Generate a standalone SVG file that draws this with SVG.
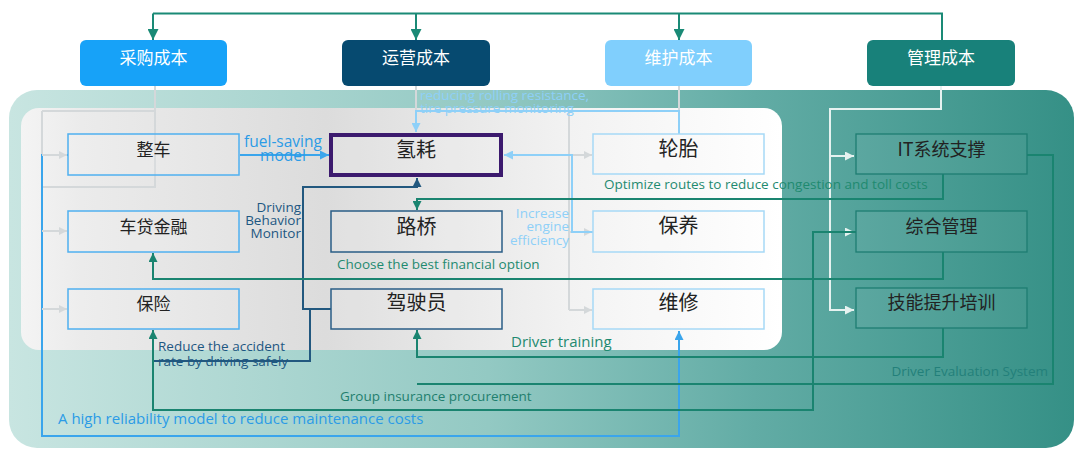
<svg xmlns="http://www.w3.org/2000/svg" width="1080" height="452" viewBox="0 0 1080 452">
<defs>
<linearGradient id="bgG" x1="0" y1="0" x2="1" y2="0">
<stop offset="0" stop-color="#c8e5e1"/>
<stop offset="0.45" stop-color="#93c9c3"/>
<stop offset="0.7" stop-color="#62aca5"/>
<stop offset="1" stop-color="#359086"/>
</linearGradient>
<linearGradient id="inG" x1="0" y1="0" x2="1" y2="0">
<stop offset="0" stop-color="#f4f4f4"/>
<stop offset="0.08" stop-color="#ebebeb"/>
<stop offset="0.4" stop-color="#dcdcdc"/>
<stop offset="0.72" stop-color="#f2f2f2"/>
<stop offset="1" stop-color="#ffffff"/>
</linearGradient>
<marker id="aTop" viewBox="0 0 10 10" refX="10" refY="5" markerWidth="11" markerHeight="11" markerUnits="userSpaceOnUse" orient="auto"><path d="M0,0 L10,5 L0,10 z" fill="#1a8a76"/></marker>
<marker id="aTeal" viewBox="0 0 10 10" refX="10" refY="5" markerWidth="9" markerHeight="9" markerUnits="userSpaceOnUse" orient="auto"><path d="M0,0 L10,5 L0,10 z" fill="#1a8470"/></marker>
<marker id="aBlue" viewBox="0 0 10 10" refX="10" refY="5" markerWidth="9" markerHeight="9" markerUnits="userSpaceOnUse" orient="auto"><path d="M0,0 L10,5 L0,10 z" fill="#3aa5ec"/></marker>
<marker id="aNavy" viewBox="0 0 10 10" refX="10" refY="5" markerWidth="9" markerHeight="9" markerUnits="userSpaceOnUse" orient="auto"><path d="M0,0 L10,5 L0,10 z" fill="#22587f"/></marker>
<marker id="aLBlue" viewBox="0 0 10 10" refX="10" refY="5" markerWidth="9" markerHeight="9" markerUnits="userSpaceOnUse" orient="auto"><path d="M0,0 L10,5 L0,10 z" fill="#8ed0f8"/></marker>
<marker id="aGray" viewBox="0 0 10 10" refX="10" refY="5" markerWidth="8" markerHeight="8" markerUnits="userSpaceOnUse" orient="auto"><path d="M0,0 L10,5 L0,10 z" fill="#d4d8da"/></marker>
<marker id="aWhite" viewBox="0 0 10 10" refX="10" refY="5" markerWidth="9" markerHeight="9" markerUnits="userSpaceOnUse" orient="auto"><path d="M0,0 L10,5 L0,10 z" fill="#e6f2f0"/></marker>
</defs>
<style>
.tt{font-family:"Noto Sans CJK SC","Noto Sans",sans-serif;font-size:17px;fill:#ffffff;text-anchor:middle}
.nt{font-family:"Noto Sans CJK SC","Noto Sans",sans-serif;fill:#222222;text-anchor:middle}
.c1{fill:#ffffff;fill-opacity:0.12;stroke:#4fb0f0;stroke-width:1.5}
.c2{fill:#ffffff;fill-opacity:0.12;stroke:#2a5d86;stroke-width:1.5}
.c3{fill:#ffffff;fill-opacity:0.12;stroke:#a6d9f6;stroke-width:1.5}
.c4{fill:#ffffff;fill-opacity:0.05;stroke:#1e7d72;stroke-width:1.3}
.ln{fill:none;stroke-width:2}
.teal{stroke:#1a8470}
.blue{stroke:#3aa5ec}
.navy{stroke:#22587f}
.lblue{stroke:#8ed0f8}
.gray{stroke:#d4d8da}
.white{stroke:#e6f2f0}
.lb{font-family:"Open Sans","Noto Sans",sans-serif;font-size:13.5px}
.s15{font-size:15px}
.s155{font-size:15.5px}
</style>
<rect x="9" y="90" width="1065" height="358" rx="28" fill="url(#bgG)"/>
<rect x="21" y="108" width="761" height="242" rx="18" fill="url(#inG)"/>

<g id="connectors">
<path class="ln" d="M153 13.5 H942 V40" stroke="#1a8a76" stroke-width="3"/>
<path class="ln" d="M153 13.5 V40" stroke="#1a8a76" stroke-width="3" marker-end="url(#aTop)"/>
<path class="ln" d="M416 13.5 V40" stroke="#1a8a76" stroke-width="3" marker-end="url(#aTop)"/>
<path class="ln" d="M679 13.5 V40" stroke="#1a8a76" stroke-width="3" marker-end="url(#aTop)"/>

<path class="ln gray" d="M155 86 V187 H42 M42 111 H155 M42 111 V309"/>
<path class="ln gray" d="M679 86 V111 M569 111 V310 M416 86 V111"/>
<path class="ln white" d="M941 86 V109 H830 V310 H854" marker-end="url(#aWhite)"/>
<path class="ln white" d="M830 156 H854" marker-end="url(#aWhite)"/>
<path class="ln white" d="M830 232 H854" marker-end="url(#aWhite)"/>

<path class="ln blue" d="M68 155 H42 V436 H679 V331" marker-end="url(#aBlue)"/>
<path class="ln blue" d="M240 155 H329" marker-end="url(#aBlue)"/>
<path class="ln gray" d="M42 155 H67" marker-end="url(#aGray)"/>
<path class="ln gray" d="M42 231 H67" marker-end="url(#aGray)"/>
<path class="ln gray" d="M42 309 H67" marker-end="url(#aGray)"/>
<path class="ln gray" d="M569 155 H592" marker-end="url(#aGray)"/>
<path class="ln gray" d="M569 232 H592" marker-end="url(#aGray)"/>
<path class="ln gray" d="M569 310 H592" marker-end="url(#aGray)"/>

<path class="ln lblue" d="M679 134 V111 H416 V132" marker-end="url(#aLBlue)"/>
<path class="ln lblue" d="M593 232 H572 V155 H504" marker-end="url(#aLBlue)"/>

<path class="ln navy" d="M331 309 H303 V187 H417 V178" marker-end="url(#aNavy)"/>
<path class="ln navy" d="M310 309 V361 H153"/>

<path class="ln teal" d="M943 174 V199 H417 V210" marker-end="url(#aTeal)"/>
<path class="ln teal" d="M943 252 V279 H153 V253" marker-end="url(#aTeal)"/>
<path class="ln teal" d="M943 328 V357 H417 V330" marker-end="url(#aTeal)"/>
<path class="ln teal" d="M856 232 H813 V410 H153 V330" marker-end="url(#aTeal)"/>
<path class="ln teal" d="M1027 155 H1053 V384 H417"/>

<text class="lb" x="420" y="100" fill="#8ed0f8">reducing rolling resistance,</text>
<text class="lb" x="420" y="113" fill="#8ed0f8">tire pressure monitoring</text>
<text class="lb s155" x="283" y="147" fill="#2b9be6" text-anchor="middle">fuel-saving</text>
<text class="lb s155" x="283" y="161" fill="#2b9be6" text-anchor="middle">model</text>
<text class="lb" x="301" y="212" fill="#1d5782" text-anchor="end">Driving</text>
<text class="lb" x="301" y="225" fill="#1d5782" text-anchor="end">Behavior</text>
<text class="lb" x="301" y="238" fill="#1d5782" text-anchor="end">Monitor</text>
<text class="lb" x="604" y="189" fill="#1f8a70">Optimize routes to reduce congestion and toll costs</text>
<text class="lb" x="569" y="218" fill="#8ed0f8" text-anchor="end">Increase</text>
<text class="lb" x="569" y="231" fill="#8ed0f8" text-anchor="end">engine</text>
<text class="lb" x="569" y="245" fill="#8ed0f8" text-anchor="end">efficiency</text>
<text class="lb" x="337" y="269" fill="#1f8a70">Choose the best financial option</text>
<text class="lb s15" x="511" y="347" fill="#1f8a70">Driver training</text>
<text class="lb" x="158" y="351" fill="#1d5782">Reduce the accident</text>
<text class="lb" x="158" y="366" fill="#1d5782">rate by driving safely</text>
<text class="lb" x="1048" y="376" fill="#23807a" text-anchor="end">Driver Evaluation System</text>
<text class="lb" x="340" y="401" fill="#1f7f6e">Group insurance procurement</text>
<text class="lb s15" x="58" y="424" fill="#2b9be6">A high reliability model to reduce maintenance costs</text>
</g>

<g id="n-caigou"><rect x="80" y="40" width="147" height="46" rx="6" fill="#17a2f8"/><text class="tt" x="153.5" y="64">采购成本</text></g>
<g id="n-yunying"><rect x="342" y="40" width="148" height="46" rx="6" fill="#064a70"/><text class="tt" x="416" y="64">运营成本</text></g>
<g id="n-weihu"><rect x="605" y="40" width="147" height="46" rx="6" fill="#80cffd"/><text class="tt" x="678.5" y="64">维护成本</text></g>
<g id="n-guanli"><rect x="867" y="40" width="148" height="46" rx="6" fill="#18817a"/><text class="tt" x="941" y="64">管理成本</text></g>

<g id="n-zhengche"><rect class="c1" x="68" y="134" width="171" height="41"/><text class="nt" x="153.5" y="156" font-size="17">整车</text></g>
<g id="n-chedai"><rect class="c1" x="68" y="211" width="171" height="41"/><text class="nt" x="153.5" y="233" font-size="17">车贷金融</text></g>
<g id="n-baoxian"><rect class="c1" x="68" y="289" width="171" height="40"/><text class="nt" x="153.5" y="310" font-size="17">保险</text></g>

<g id="n-qinghao"><rect x="331" y="135" width="170" height="40" fill="#ffffff" fill-opacity="0.12" stroke="#3c1a6e" stroke-width="4"/><text class="nt" x="416" y="157" font-size="20">氢耗</text></g>
<g id="n-luqiao"><rect class="c2" x="331" y="211" width="171" height="41"/><text class="nt" x="416.5" y="234" font-size="20">路桥</text></g>
<g id="n-jiashiyuan"><rect class="c2" x="331" y="289" width="171" height="40"/><text class="nt" x="416.5" y="310" font-size="20">驾驶员</text></g>

<g id="n-luntai"><rect class="c3" x="593" y="134" width="171" height="40"/><text class="nt" x="678.5" y="156" font-size="20">轮胎</text></g>
<g id="n-baoyang"><rect class="c3" x="593" y="211" width="171" height="41"/><text class="nt" x="678.5" y="233" font-size="20">保养</text></g>
<g id="n-weixiu"><rect class="c3" x="593" y="289" width="171" height="40"/><text class="nt" x="678.5" y="310" font-size="20">维修</text></g>

<g id="n-it"><rect class="c4" x="856" y="134" width="171" height="40"/><text class="nt" x="941.5" y="156" font-size="18" fill="#1a2e2e">IT系统支撑</text></g>
<g id="n-zonghe"><rect class="c4" x="856" y="211" width="171" height="41"/><text class="nt" x="941.5" y="233" font-size="18" fill="#1a2e2e">综合管理</text></g>
<g id="n-jineng"><rect class="c4" x="856" y="288" width="171" height="40"/><text class="nt" x="941.5" y="309" font-size="18" fill="#1a2e2e">技能提升培训</text></g>
</svg>
